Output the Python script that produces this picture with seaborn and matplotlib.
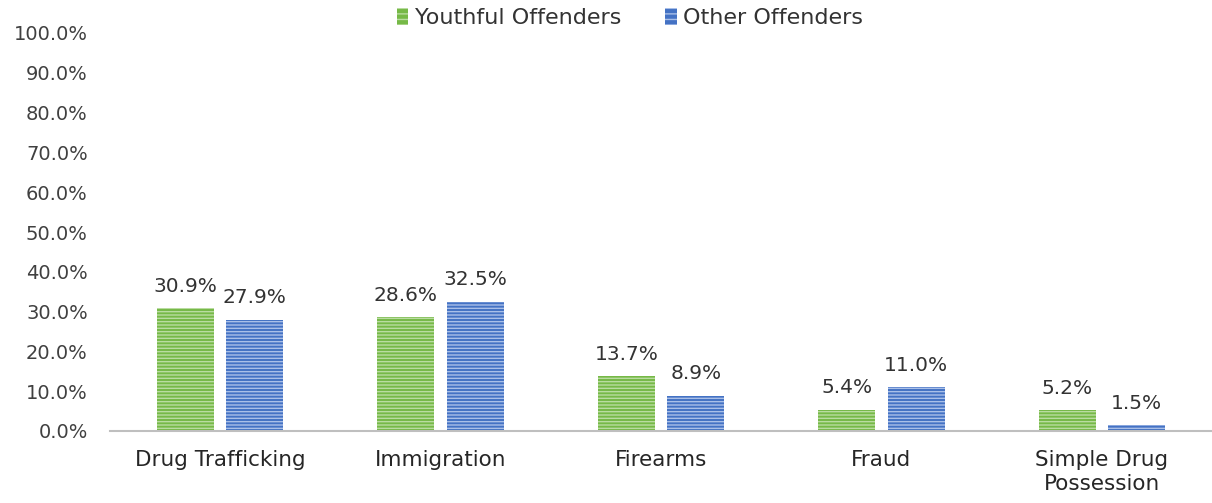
import matplotlib
matplotlib.use("Agg")
import matplotlib.pyplot as plt
import seaborn as sns
import pandas as pd
from matplotlib.patches import Patch

categories = ["Drug Trafficking", "Immigration", "Firearms", "Fraud", "Simple Drug\nPossession"]
youthful = [30.9, 28.6, 13.7, 5.4, 5.2]
other = [27.9, 32.5, 8.9, 11.0, 1.5]
series = ["Youthful Offenders", "Other Offenders"]
yticks = [0, 10, 20, 30, 40, 50, 60, 70, 80, 90, 100]

df = pd.DataFrame({
    "Category": categories * 2,
    "Value": youthful + other,
    "Series": [series[0]] * len(categories) + [series[1]] * len(categories),
})

sns.set_theme(style="white")
plt.rcParams['font.family'] = ['DejaVu Sans']
plt.rcParams['hatch.linewidth'] = 1.0

face = {"Youthful Offenders": "#76B947", "Other Offenders": "#4472C4"}
hatchc = {"Youthful Offenders": "#B9DCA0", "Other Offenders": "#A9BFE8"}

fig = plt.figure(figsize=(12.12, 5.03), dpi=100)
ax = fig.add_axes([110/1212, 1 - 431/503, 1102/1212, (431-33)/503])
sns.barplot(data=df, x="Category", y="Value", hue="Series", palette=face,
            width=0.63, gap=0.18, ax=ax, legend=False, saturation=1)

for cont, s in zip(ax.containers, series):
    for bar in cont:
        bar.set_hatch("-----")
        bar.set_edgecolor(hatchc[s])
        bar.set_linewidth(0)
    ax.bar_label(cont, labels=[f"{v:.1f}%" for v in cont.datavalues],
                 padding=9, fontsize=14.5, color="#333333")

ax.set_ylim(0, 100)
ax.set_yticks(yticks)
ax.set_yticklabels([f"{v:.1f}%" for v in yticks], fontsize=14, color="#404040")
ax.tick_params(axis="y", length=0, pad=16)
ax.tick_params(axis="x", length=0, pad=14, labelsize=15.5, labelcolor="#262626")
ax.set_xlabel("")
ax.set_ylabel("")
for sp in ["top", "right", "left"]:
    ax.spines[sp].set_visible(False)
ax.spines["bottom"].set_color("#BFBFBF")
ax.spines["bottom"].set_linewidth(1.5)

handles = [Patch(facecolor=face[s], edgecolor=hatchc[s], hatch="---", linewidth=0) for s in series]
fig.legend(handles, series, loc="center", bbox_to_anchor=(630/1212, 1 - 18/503), ncol=2,
           frameon=False, fontsize=16, handlelength=0.5, handleheight=0.8,
           handletextpad=0.3, columnspacing=2.0, labelcolor="#333333")

fig.savefig("out.png", dpi=100)
